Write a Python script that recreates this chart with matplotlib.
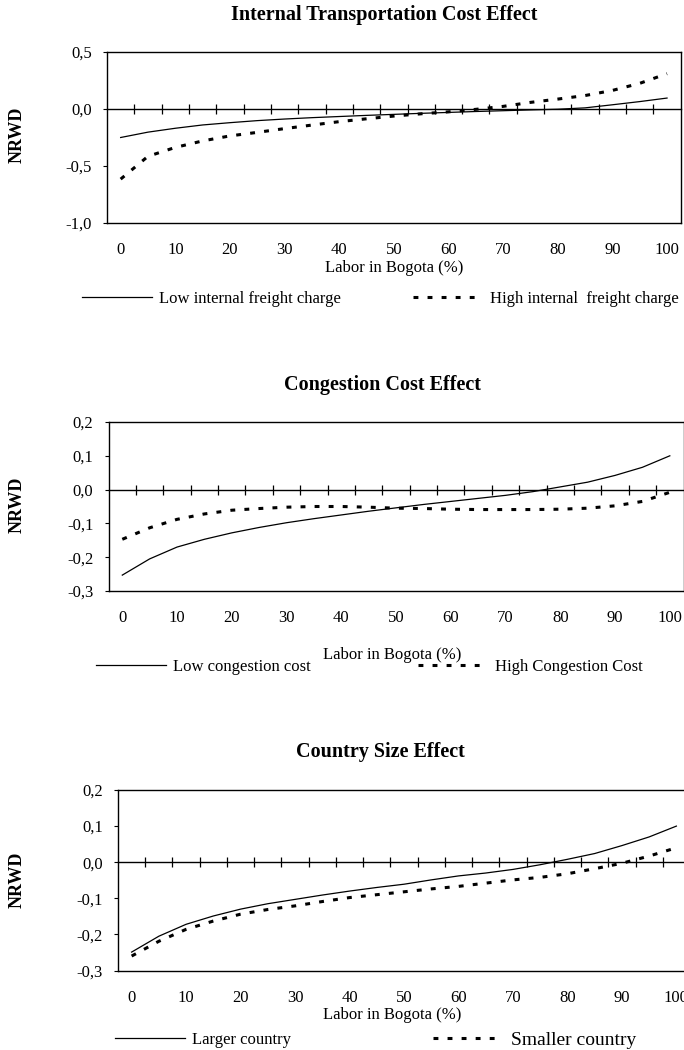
import matplotlib
matplotlib.use("Agg")
import matplotlib.pyplot as plt
import numpy as np

plt.rcParams["font.family"] = ["Liberation Serif", "DejaVu Serif"]

W, H = 684, 1050

# shared x axis (share of labour in Bogota, %)
labor = [0, 5, 10, 15, 20, 25, 30, 35, 40, 45, 50, 55, 60, 65, 70, 75, 80, 85, 90, 95, 100]
xtick_pos = [0, 10, 20, 30, 40, 50, 60, 70, 80, 90, 100]
xtick_labels = ["0", "10", "20", "30", "40", "50", "60", "70", "80", "90", "100"]

# panel 1: internal transportation cost
freight_low = [-0.25, -0.203, -0.169, -0.14, -0.12, -0.102, -0.088, -0.076, -0.066, -0.056, -0.047,
               -0.038, -0.03, -0.022, -0.015, -0.008, -0.002, 0.01, 0.037, 0.065, 0.096]
freight_high = [-0.615, -0.415, -0.337, -0.28, -0.236, -0.205, -0.172, -0.141, -0.111, -0.086, -0.062,
                -0.042, -0.025, -0.003, 0.023, 0.058, 0.087, 0.118, 0.163, 0.225, 0.31]
freight_yticks = [-1.0, -0.5, 0.0, 0.5]

# panel 2: congestion cost
cong_low = [-0.253, -0.205, -0.17, -0.147, -0.128, -0.112, -0.098, -0.086, -0.075, -0.064, -0.054,
            -0.044, -0.035, -0.026, -0.017, -0.006, 0.008, 0.022, 0.042, 0.066, 0.10]
cong_high = [-0.147, -0.113, -0.088, -0.072, -0.061, -0.056, -0.052, -0.05, -0.05, -0.052, -0.055,
             -0.056, -0.058, -0.059, -0.059, -0.059, -0.058, -0.055, -0.048, -0.035, -0.008]
cong_yticks = [-0.3, -0.2, -0.1, 0.0, 0.1, 0.2]

# panel 3: country size
size_large = [-0.249, -0.205, -0.172, -0.149, -0.13, -0.115, -0.103, -0.091, -0.08, -0.07, -0.061,
              -0.049, -0.038, -0.03, -0.02, -0.007, 0.008, 0.024, 0.046, 0.07, 0.10]
size_small = [-0.26, -0.219, -0.186, -0.163, -0.144, -0.131, -0.121, -0.109, -0.098, -0.09, -0.082,
              -0.074, -0.067, -0.058, -0.049, -0.042, -0.032, -0.018, -0.003, 0.017, 0.04]
size_yticks = [-0.3, -0.2, -0.1, 0.0, 0.1, 0.2]

panels = [
    dict(title="Internal Transportation Cost Effect", box=(107, 680.7, 52, 223),
         title_xy=(384, 15), xlabel_xy=(394, 268), ylabel_y=135,
         solid=freight_low, dotted=freight_high, yticks=freight_yticks,
         labels=("Low internal freight charge", "High internal  freight charge"),
         leg_xy=((82, 299), (413, 299)), leg_size=(12, 12)),
    dict(title="Congestion Cost Effect", box=(108.6, 683.5, 422, 591),
         title_xy=(382, 385), xlabel_xy=(392, 655), ylabel_y=505,
         solid=cong_low, dotted=cong_high, yticks=cong_yticks,
         labels=("Low congestion cost", "High Congestion Cost"),
         leg_xy=((96, 667), (418, 667)), leg_size=(12, 12)),
    dict(title="Country Size Effect", box=(118, 690, 790, 970.5),
         title_xy=(380, 752), xlabel_xy=(392, 1015), ylabel_y=880,
         solid=size_large, dotted=size_small, yticks=size_yticks,
         labels=("Larger country", "Smaller country"),
         leg_xy=((115, 1040), (433, 1040)), leg_size=(12, 14)),
]

fig = plt.figure(figsize=(W / 100, H / 100), dpi=100)


def fx(x):
    return x / W


def fy(y):
    return 1 - y / H


for p in panels:
    l, r, t, b = p["box"]
    ax = fig.add_axes([fx(l), fy(b), (r - l) / W, (b - t) / H])

    solid, = ax.plot(labor, p["solid"], color="black", lw=0.9)
    dotted, = ax.plot(labor, p["dotted"], color="black", lw=2.2,
                      linestyle=(0, (1.6, 3.0)), dash_capstyle="butt")

    ax.set_xlim(-2.5, 102.5)
    ax.set_ylim(p["yticks"][0], p["yticks"][-1])

    ax.set_xticks(xtick_pos)
    ax.set_xticklabels(xtick_labels)
    ax.set_yticks(p["yticks"])
    ax.set_yticklabels([f"{v:.1f}".replace(".", ",") for v in p["yticks"]])
    ax.tick_params(axis="x", length=0, pad=14, labelsize=12)
    ax.tick_params(axis="y", length=3, width=0.8, pad=8, labelsize=12)
    for s in ax.spines.values():
        s.set_linewidth(1.0)

    # category axis crossing at zero, ticks between categories
    zero = ax.secondary_xaxis(0, transform=ax.transData)
    zero.set_xticks(np.arange(2.5, 100, 5))
    zero.tick_params(direction="inout", length=7, width=0.9, labelbottom=False)
    zero.spines["bottom"].set_linewidth(1.0)

    fig.text(fx(p["title_xy"][0]), fy(p["title_xy"][1]), p["title"], ha="center", va="center",
             fontsize=14.5, fontweight="bold")
    fig.text(fx(17), fy(p["ylabel_y"]), "NRWD", rotation=90, ha="center", va="center",
             fontsize=13, fontweight="bold")
    fig.text(fx(p["xlabel_xy"][0]), fy(p["xlabel_xy"][1]), "Labor in Bogota (%)",
             ha="center", va="center", fontsize=12)

    for handle, label, (lx, ly), size in zip((solid, dotted), p["labels"], p["leg_xy"], p["leg_size"]):
        fig.legend(handles=[handle], labels=[label], loc="center left",
                   bbox_to_anchor=(fx(lx), fy(ly)), bbox_transform=fig.transFigure,
                   frameon=False, borderpad=0, borderaxespad=0,
                   handlelength=70 / (size * 100 / 72), handletextpad=0.4, fontsize=size)

fig.savefig("out.png", dpi=100)
